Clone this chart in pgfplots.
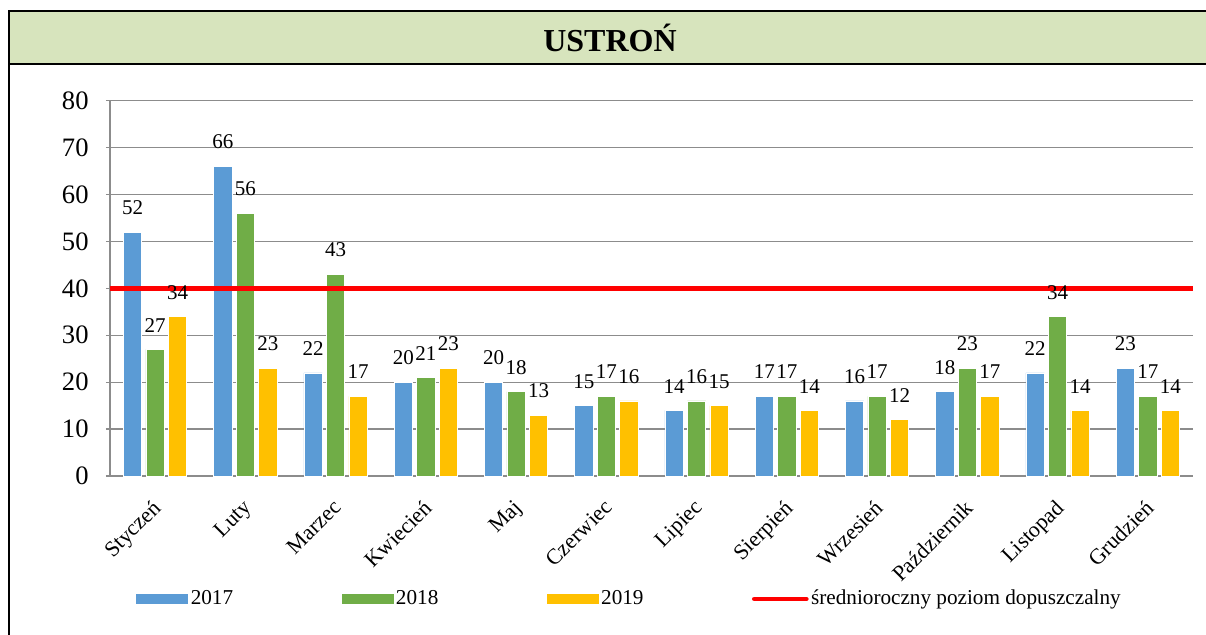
\documentclass[border=0pt]{standalone}
\usepackage{fontspec}
\setmainfont{Liberation Serif}
\usepackage{pgfplots}
\pgfplotsset{compat=1.18}

\definecolor{c2017}{HTML}{5B9BD5}
\definecolor{c2018}{HTML}{70AD47}
\definecolor{c2019}{HTML}{FFC000}
\definecolor{band}{HTML}{D7E4BD}
\definecolor{gridgray}{HTML}{8C8C8C}

\pgfplotsset{
  barlegend/.style={legend image code/.code={\fill[##1,draw=none] (0pt,-2.6pt) rectangle (26pt,2.6pt);}},
  linelegend/.style={legend image code/.code={\draw[##1,line cap=round] (0pt,0pt) -- (26pt,0pt);}},
}

\begin{document}
\begin{tikzpicture}
\useasboundingbox (-55pt,-79pt) rectangle (548pt,238pt);
% ramka i pasek tytulu
\fill[band] (-50.65pt,206pt) rectangle (560pt,232.5pt);
\draw[line width=1.1pt] (560pt,232.5pt) -- (-50.65pt,232.5pt) -- (-50.65pt,-90pt);
\draw[line width=1.1pt] (-50.65pt,206pt) -- (560pt,206pt);
\node[font=\bfseries\fontsize{16}{19}\selectfont] at (250pt,219pt) {USTROŃ};

\begin{axis}[
    scale only axis,
    width=541.5pt, height=187.65pt,
    xmin=-0.5, xmax=11.5,
    ymin=0, ymax=80,
    ytick={0,10,...,80},
    xtick={0,...,11},
    xticklabels={Styczeń,Luty,Marzec,Kwiecień,Maj,Czerwiec,Lipiec,Sierpień,Wrzesień,Październik,Listopad,Grudzień},
    minor xtick={-0.5,0.5,...,11.5},
    xtick style={draw=none},
    minor tick style={draw=gridgray, line width=0.6pt},
    ytick style={draw=gridgray, line width=0.6pt},
    major tick length=4pt,
    minor tick length=2.5pt,
    tick align=outside,
    axis lines=left,
    axis line style={-, draw=gridgray, line width=0.6pt},
    ymajorgrids=true,
    grid style={draw=gridgray, line width=0.6pt},
    /pgf/number format/assume math mode=true,
    yticklabel style={font=\fontsize{13.3}{16}\selectfont, inner sep=0pt, xshift=-8.5pt},
    % przesuniecia podane w ukladzie obroconym o 45 stopni
    xticklabel style={font=\fontsize{11}{13}\selectfont, rotate=45, anchor=north east, inner sep=0pt, xshift=-7.6pt, yshift=-5.1pt},
    legend columns=4,
    legend style={draw=none, fill=none, at={(0.024,-0.3277)}, anchor=west, inner sep=0pt,
      font=\fontsize{10.6}{13}\selectfont,
      nodes={inner sep=1.2pt},
      /tikz/every even column/.append style={column sep=53pt}},
    every node near coord/.append style={font=\fontsize{10.5}{12}\selectfont, anchor=south, inner sep=0pt, yshift=8.5pt},
]
\addplot[ybar, bar width=9.15pt, bar shift=-11.25pt, fill=c2017, draw=white, line width=0.3pt, barlegend,
    nodes near coords, every node near coord/.append style={xshift=-11.25pt}]
  coordinates {(0,52) (1,66) (2,22) (3,20) (4,20) (5,15) (6,14) (7,17) (8,16) (9,18) (10,22) (11,23)};
\addplot[ybar, bar width=9.15pt, bar shift=0pt, fill=c2018, draw=white, line width=0.3pt, barlegend,
    nodes near coords]
  coordinates {(0,27) (1,56) (2,43) (3,21) (4,18) (5,17) (6,16) (7,17) (8,17) (9,23) (10,34) (11,17)};
\addplot[ybar, bar width=9.15pt, bar shift=11.25pt, fill=c2019, draw=white, line width=0.3pt, barlegend,
    nodes near coords, every node near coord/.append style={xshift=11.25pt}]
  coordinates {(0,34) (1,23) (2,17) (3,23) (4,13) (5,16) (6,15) (7,14) (8,12) (9,17) (10,14) (11,14)};
\addplot[red, line width=2.35pt, mark=none, linelegend]
  coordinates {(-0.5,40) (11.5,40)};
\legend{2017,2018,2019,średnioroczny poziom dopuszczalny}
\end{axis}
\end{tikzpicture}
\end{document}
